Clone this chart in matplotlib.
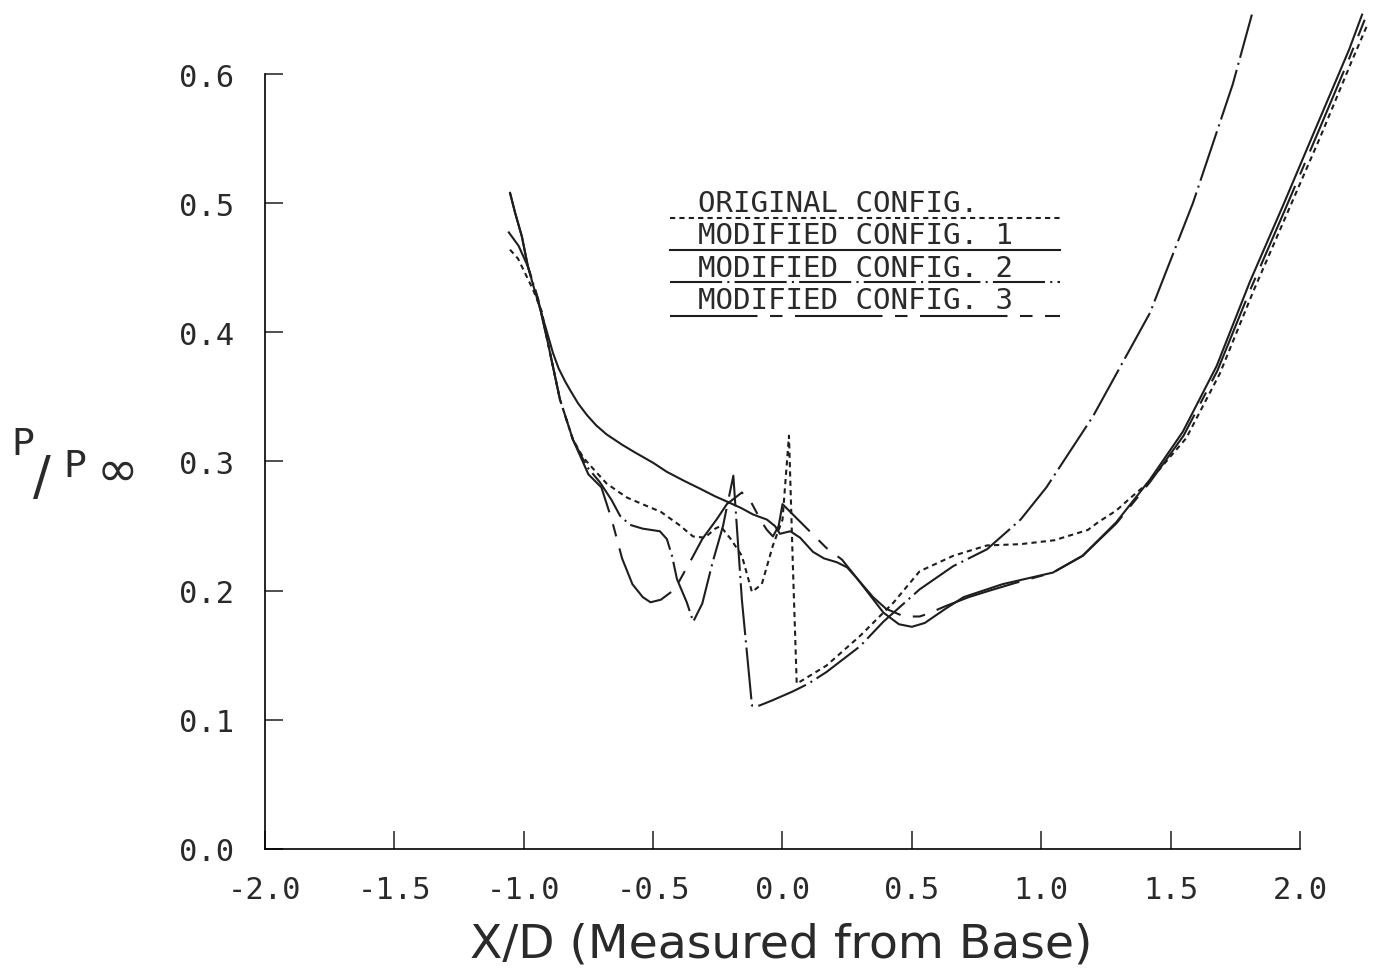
import numpy as np
import matplotlib.pyplot as plt

# ORIGINAL CONFIG. (dotted)
x0 = [-1.053, -1.022, -0.988, -0.964, -0.93, -0.91, -0.86, -0.81, -0.77, -0.73, -0.68, -0.63, -0.60,
      -0.53, -0.47, -0.40, -0.346, -0.30, -0.26, -0.24, -0.20, -0.157, -0.118, -0.08, -0.037, 0.0,
      0.025, 0.04, 0.055, 0.08, 0.17, 0.30, 0.43, 0.53, 0.66, 0.79, 0.92, 1.05, 1.18, 1.22, 1.29,
      1.34, 1.41, 1.56, 1.69, 1.82, 1.95, 2.08, 2.20, 2.26]
y0 = [0.464, 0.457, 0.443, 0.433, 0.416, 0.395, 0.348, 0.317, 0.303, 0.294, 0.283, 0.276, 0.272,
      0.266, 0.261, 0.251, 0.242, 0.241, 0.248, 0.250, 0.240, 0.227, 0.199, 0.205, 0.235, 0.255,
      0.320, 0.220, 0.128, 0.131, 0.142, 0.165, 0.191, 0.215, 0.227, 0.235, 0.236, 0.239, 0.247,
      0.253, 0.262, 0.271, 0.283, 0.318, 0.368, 0.432, 0.492, 0.552, 0.610, 0.638]

# MODIFIED CONFIG. 1 (solid)
x1 = [-1.053, -1.034, -1.007, -0.984, -0.960, -0.935, -0.91, -0.887, -0.865, -0.84, -0.82, -0.79,
      -0.756, -0.72, -0.68, -0.62, -0.57, -0.50, -0.447, -0.38, -0.319, -0.26, -0.215, -0.16, -0.114,
      -0.06, -0.029, -0.01, 0.01, 0.03, 0.068, 0.118, 0.16, 0.21, 0.25, 0.29, 0.34, 0.39, 0.45, 0.50,
      0.55, 0.63, 0.70, 0.85, 1.045, 1.16, 1.29, 1.42, 1.547, 1.678, 1.806, 1.934, 2.065, 2.19, 2.24]
y1 = [0.508, 0.493, 0.474, 0.451, 0.434, 0.417, 0.400, 0.384, 0.372, 0.362, 0.355, 0.345, 0.336,
      0.328, 0.321, 0.313, 0.307, 0.299, 0.292, 0.285, 0.279, 0.273, 0.269, 0.264, 0.259, 0.255,
      0.250, 0.244, 0.245, 0.246, 0.241, 0.230, 0.225, 0.222, 0.218, 0.209, 0.196, 0.183, 0.174,
      0.172, 0.175, 0.186, 0.195, 0.205, 0.214, 0.227, 0.253, 0.286, 0.323, 0.374, 0.439, 0.498,
      0.560, 0.619, 0.646]

# MODIFIED CONFIG. 2 (dash-dot)
x2 = [-1.06, -1.02, -0.984, -0.945, -0.91, -0.86, -0.81, -0.756, -0.706, -0.66, -0.628, -0.59,
      -0.54, -0.474, -0.447, -0.427, -0.408, -0.37, -0.345, -0.31, -0.27, -0.23, -0.19, -0.157,
      -0.118, -0.09, -0.04, 0.04, 0.10, 0.17, 0.30, 0.39, 0.53, 0.66, 0.79, 0.92, 1.02, 1.20, 1.42,
      1.586, 1.74, 1.814]
y2 = [0.478, 0.467, 0.451, 0.426, 0.395, 0.348, 0.317, 0.296, 0.284, 0.270, 0.258, 0.251, 0.248,
      0.246, 0.240, 0.227, 0.209, 0.191, 0.176, 0.190, 0.222, 0.250, 0.289, 0.193, 0.111, 0.111,
      0.115, 0.122, 0.128, 0.137, 0.157, 0.176, 0.201, 0.219, 0.232, 0.255, 0.280, 0.335, 0.415,
      0.500, 0.592, 0.646]

# MODIFIED CONFIG. 3 (long-short dash)
x3 = [-1.053, -1.034, -1.007, -0.984, -0.945, -0.91, -0.86, -0.81, -0.75, -0.70, -0.66, -0.62,
      -0.58, -0.54, -0.51, -0.47, -0.43, -0.40, -0.35, -0.31, -0.255, -0.215, -0.157, -0.12, -0.08,
      -0.06, -0.037, -0.015, 0.0, 0.06, 0.12, 0.17, 0.23, 0.29, 0.35, 0.40, 0.47, 0.53, 0.56, 0.63,
      0.72, 0.80, 0.90, 1.045, 1.16, 1.29, 1.42, 1.55, 1.68, 1.81, 1.94, 2.07, 2.19, 2.25]
y3 = [0.508, 0.493, 0.474, 0.451, 0.426, 0.395, 0.348, 0.317, 0.290, 0.280, 0.255, 0.225, 0.205,
      0.195, 0.191, 0.193, 0.199, 0.207, 0.225, 0.240, 0.255, 0.267, 0.276, 0.268, 0.253, 0.247,
      0.242, 0.250, 0.267, 0.255, 0.243, 0.233, 0.224, 0.209, 0.195, 0.186, 0.180, 0.180, 0.182,
      0.188, 0.195, 0.200, 0.206, 0.214, 0.227, 0.252, 0.284, 0.320, 0.370, 0.434, 0.494, 0.555,
      0.612, 0.642]

labels = ['ORIGINAL CONFIG.', 'MODIFIED CONFIG. 1', 'MODIFIED CONFIG. 2', 'MODIFIED CONFIG. 3']
styles = [(0, (2.5, 2.0)), '-', (0, (25, 2.5, 1, 2.5)), (0, (42, 6, 6, 6))]
xticks = [-2.0, -1.5, -1.0, -0.5, 0.0, 0.5, 1.0, 1.5, 2.0]
yticks = [0.0, 0.1, 0.2, 0.3, 0.4, 0.5, 0.6]

ink = '#1e1e1e'
mono = 'DejaVu Sans Mono'

fig = plt.figure(figsize=(13.78, 9.78), dpi=100)
ax = fig.add_axes([0.1923, 0.1309, 0.7511, 0.7924])

for xs, ys, ls in zip([x0, x1, x2, x3], [y0, y1, y2, y3], styles):
    ax.plot(xs, ys, color=ink, lw=1.5, linestyle=ls, clip_on=False)

ax.set_xlim(-2.0, 2.0)
ax.set_ylim(0.0, 0.6)
ax.spines['top'].set_visible(False)
ax.spines['right'].set_visible(False)
ax.spines['left'].set_linewidth(1.2)
ax.spines['bottom'].set_linewidth(1.2)
ax.set_xticks(xticks)
ax.set_yticks(yticks)
ax.set_xticklabels(['%.1f' % v for v in xticks], family=mono)
ax.set_yticklabels(['%.1f' % v for v in yticks], family=mono)
ax.tick_params(direction='in', length=13, width=1.1, labelsize=22, color=ink,
               labelcolor='#2a2a2a')
ax.tick_params(axis='x', pad=19)
ax.tick_params(axis='y', pad=22)

# legend drawn as text with line samples underneath
row_text = [0.833, 0.792, 0.750, 0.709]
row_line = [0.814, 0.773, 0.732, 0.688]
for lab, ls, yt, yl in zip(labels, styles, row_text, row_line):
    ax.text(0.418, yt, lab, transform=ax.transAxes, fontsize=21, family=mono, ha='left',
            va='center', color='#2a2a2a')
    ax.plot([0.391, 0.768], [yl, yl], transform=ax.transAxes, color=ink, lw=1.5,
            linestyle=ls)

fig.text(0.567, 0.034, 'X/D (Measured from Base)', fontsize=34, ha='center', va='center',
         color='#2a2a2a')
fig.text(0.008, 0.545, 'P', fontsize=27, ha='left', va='center', color='#2a2a2a')
fig.text(0.024, 0.51, '/', fontsize=38, ha='left', va='center', color='#2a2a2a')
fig.text(0.046, 0.522, 'P', fontsize=27, ha='left', va='center', color='#2a2a2a')
fig.text(0.070, 0.518, '\u221e', fontsize=36, ha='left', va='center', color='#2a2a2a')

fig.savefig('out.png', dpi=100, facecolor='white')
